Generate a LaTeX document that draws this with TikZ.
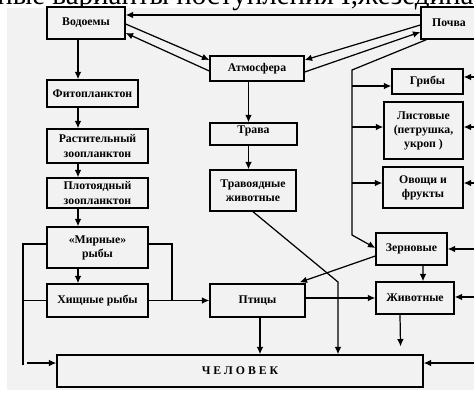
\documentclass[tikz,border=0pt]{standalone}
\usepackage{fontspec}
\setmainfont{Liberation Serif}
\usepackage{tikz}
\usetikzlibrary{arrows, arrows.meta, positioning, calc}
\definecolor{paper}{RGB}{242,242,242}
\tikzstyle{box} = [rectangle, draw=black, fill=paper, line width=0.8pt, align=center, inner sep=1pt, font=\bfseries\fontsize{6.7}{8}\selectfont]
\tikzstyle{arrow} = [line width=0.7pt,->,>={Latex[length=4.2pt,width=3.8pt]}]
\tikzstyle{link} = [line width=0.7pt]

\begin{document}
\begin{tikzpicture}[x=0.02cm, y=-0.02cm]
\useasboundingbox (0,0) rectangle (474,393);
\begin{scope}
\clip (0,0) rectangle (474,393);
\fill[paper] (7,8) rectangle (480,390);
\node (title) [anchor=base west, inner sep=0pt, font=\fontsize{16.5}{17}\selectfont] at (-3,4) {ные варианты поступления  I,жезедина};

% boxes
\node (vodoemy) [box, minimum width=1.56cm, minimum height=0.64cm] at (86,23) {Водоемы};
\node (pochva) [box, minimum width=1.12cm, minimum height=0.64cm] at (449,23) {Почва};
\node (atmo) [box, minimum width=1.88cm, minimum height=0.50cm] at (257,68.5) {Атмосфера};
\node (fito) [box, minimum width=1.82cm, minimum height=0.54cm] at (92.5,93.5) {Фитопланктон};
\node (rast) [box, minimum width=2.02cm, minimum height=0.68cm] at (97.5,146) {Растительный\\зоопланктон};
\node (plot) [box, minimum width=2.02cm, minimum height=0.60cm] at (97.5,193) {Плотоядный\\зоопланктон};
\node (mirn) [box, minimum width=2.02cm, minimum height=0.82cm] at (97.5,247.5) {«Мирные»\\рыбы};
\node (hisch) [box, minimum width=2.02cm, minimum height=0.66cm] at (97.5,300.5) {Хищные рыбы};
\node (trava) [box, minimum width=1.74cm, minimum height=0.44cm, text depth=5pt] at (253.5,134) {Трава};
\node (travo) [box, minimum width=1.72cm, minimum height=0.82cm] at (253,190.5) {Травоядные\\животные};
\node (ptitsy) [box, minimum width=1.90cm, minimum height=0.66cm] at (257.5,300.5) {Птицы};
\node (chel) [box, minimum width=7.32cm, minimum height=0.64cm] at (240,371) {Ч Е Л О В Е К};
\node (griby) [box, minimum width=1.42cm, minimum height=0.50cm] at (427.5,81.5) {Грибы};
\node (list) [box, minimum width=1.58cm, minimum height=1.14cm] at (423.5,130.5) {Листовые\\(петрушка,\\укроп )};
\node (ovo) [box, minimum width=1.60cm, minimum height=0.82cm] at (423,187.5) {Овощи и\\фрукты};
\node (zern) [box, minimum width=1.42cm, minimum height=0.64cm] at (411.5,249) {Зерновые};
\node (zhiv) [box, minimum width=1.56cm, minimum height=0.64cm] at (415,298) {Животные};

% helper points
\coordinate (lx) at (78,0);
\coordinate (mx) at (248.5,0);
\coordinate (edge) at (480,0);
\coordinate (trunktop) at (352,70);
\coordinate (trunkbot) at (352,235);
\coordinate (bend) at (338,282);
\coordinate (lefttop) at (23,244);
\coordinate (leftbot) at (23,365);
\coordinate (righttop) at (172,244);

% top links
\draw [arrow] ($(pochva.west)+(0,-8)$) -- ($(vodoemy.east)+(0,-8)$);
\draw [arrow] ($(vodoemy.east)+(0,1)$) -- ($(atmo.west)+(0,-8.5)$);
\draw [arrow] ($(atmo.west)+(0,2.5)$) -- ($(vodoemy.east)+(0,10)$);
\draw [arrow] ($(pochva.west)+(0,2)$) -- ($(atmo.east)+(0,-8.5)$);
\draw [arrow] ($(atmo.east)+(0,3.5)$) -- ($(pochva.west)+(0,9)$);

% soil trunk
\draw [arrow] ($(pochva.south west)+(6,0)$) -- (trunktop) -- (trunkbot) -- ($(zern.west)+(0,-1)$);
\draw [arrow] ($(trunktop |- griby.west)+(0,4.5)$) -- ($(griby.west)+(0,4.5)$);
\draw [arrow] ($(trunktop |- list.west)+(0,-3.5)$) -- ($(list.west)+(0,-3.5)$);
\draw [arrow] ($(trunktop |- ovo.west)+(0,-4.5)$) -- ($(ovo.west)+(0,-4.5)$);

% from the right
\draw [arrow] ($(edge |- griby.east)+(0,-4.5)$) -- ($(griby.east)+(0,-4.5)$);
\draw [arrow] ($(edge |- list.east)+(0,-3.5)$) -- ($(list.east)+(0,-3.5)$);
\draw [arrow] ($(edge |- ovo.east)+(0,-4.5)$) -- ($(ovo.east)+(0,-4.5)$);
\draw [arrow] (edge |- zern.east) -- (zern.east);
\draw [arrow] ($(edge |- zhiv.east)+(0,-1)$) -- ($(zhiv.east)+(0,-1)$);
\draw [arrow] ($(edge |- chel.east)+(0,-8)$) -- ($(chel.east)+(0,-8)$);

% middle column
\draw [arrow] (atmo.south -| mx) -- (trava.north -| mx);
\draw [arrow] (trava.south -| mx) -- (travo.north -| mx);
\draw [arrow] (travo.south) -- (bend) -- (bend |- chel.north);
\draw [arrow] ($(zern.west)+(0,7)$) -- ($(ptitsy.north east)+(-6,-1)$);
\draw [arrow] ($(zern.south)+(11.5,0)$) -- ($(zhiv.north)+(8,0)$);
\draw [arrow] ($(ptitsy.east)+(0,-2.5)$) -- (zhiv.west);
\draw [arrow, shorten >=4.5pt] ($(zhiv.south)+(-15,0)$) -- ($(chel.north east)+(-23,0)$);
\draw [arrow] ($(ptitsy.south)+(2.5,0)$) -- ($(ptitsy.south |- chel.north)+(2.5,0)$);

% water chain
\draw [arrow] (vodoemy.south -| lx) -- (fito.north -| lx);
\draw [arrow] (fito.south -| lx) -- (rast.north -| lx);
\draw [arrow] (rast.south -| lx) -- (plot.north -| lx);
\draw [arrow] (plot.south -| lx) -- (mirn.north -| lx);
\draw [arrow] (mirn.south -| lx) -- (hisch.north -| lx);

% fish loops
\draw [link] (mirn.west |- lefttop) -- (lefttop) -- (leftbot);
\draw [link] (hisch.west) -- (hisch.west -| lefttop);
\draw [arrow] ($(leftbot)+(4,-2)$) -- ($(leftbot -| chel.west)+(0,-2)$);
\draw [link] (mirn.east |- righttop) -- (righttop) -- (righttop |- hisch.east);
\draw [arrow] (hisch.east) -- (ptitsy.west);
\end{scope}
\end{tikzpicture}
\end{document}
